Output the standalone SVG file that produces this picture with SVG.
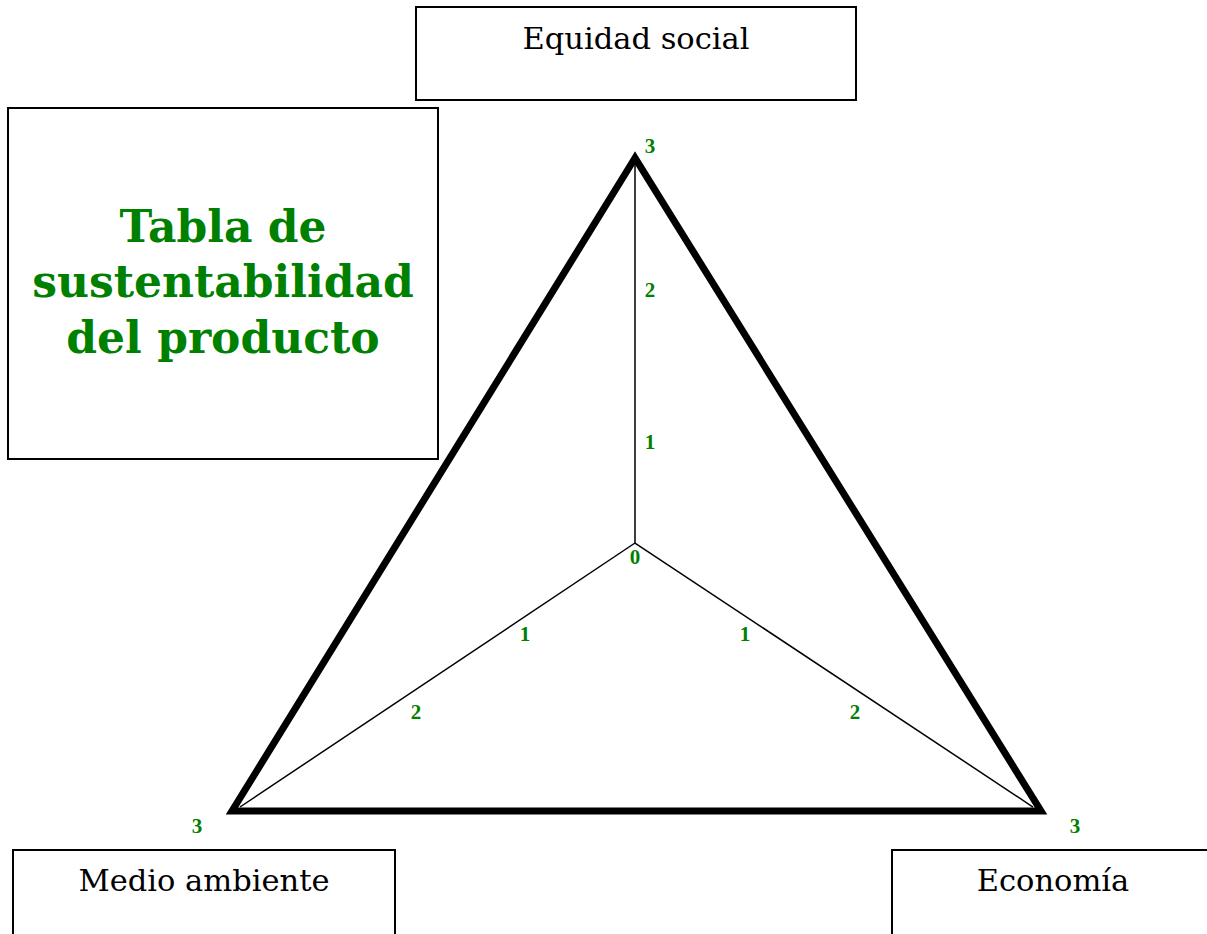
<svg xmlns="http://www.w3.org/2000/svg" width="1207" height="934" viewBox="0 0 1207 934">
<style>
.box{fill:#fff;stroke:#000;stroke-width:2}
.lbl{font-family:"DejaVu Serif","Liberation Serif",serif;font-size:30.5px;fill:#000;text-anchor:middle}
.ttl{font-family:"DejaVu Serif","Liberation Serif",serif;font-size:44px;font-weight:bold;fill:#008000;text-anchor:middle}
.num{font-family:"Liberation Serif",serif;font-size:21px;font-weight:bold;fill:#008000;text-anchor:middle}
.axis{stroke:#000;stroke-width:1.5;fill:none}
</style>
<rect width="1207" height="934" fill="#fff"/>
<g id="equidad">
<rect class="box" x="416" y="7" width="440" height="93"/>
<text class="lbl" x="636" y="49">Equidad social</text>
</g>
<g id="titulo">
<rect class="box" x="8" y="108" width="430" height="351"/>
<text class="ttl" x="223" y="242">Tabla de</text>
<text class="ttl" x="223" y="297">sustentabilidad</text>
<text class="ttl" x="223" y="353">del producto</text>
</g>
<g id="medio">
<rect class="box" x="13" y="850" width="382" height="90"/>
<text class="lbl" x="204" y="891">Medio ambiente</text>
</g>
<g id="economia">
<rect class="box" x="892" y="850" width="330" height="90"/>
<text class="lbl" x="1053" y="891">Economía</text>
</g>
<g id="connectors">
<polygon points="635,158 232,811 1041,811" fill="none" stroke="#000" stroke-width="7" stroke-linejoin="miter"/>
<line class="axis" x1="635" y1="543" x2="635" y2="162"/>
<line class="axis" x1="635" y1="543" x2="240" y2="807"/>
<line class="axis" x1="635" y1="543" x2="1033" y2="807"/>
</g>
<g id="escala">
<text class="num" x="650" y="153">3</text>
<text class="num" x="650" y="297">2</text>
<text class="num" x="650" y="449">1</text>
<text class="num" x="635" y="564">0</text>
<text class="num" x="525" y="641">1</text>
<text class="num" x="416" y="719">2</text>
<text class="num" x="197" y="833">3</text>
<text class="num" x="745" y="641">1</text>
<text class="num" x="855" y="719">2</text>
<text class="num" x="1075" y="833">3</text>
</g>
</svg>
